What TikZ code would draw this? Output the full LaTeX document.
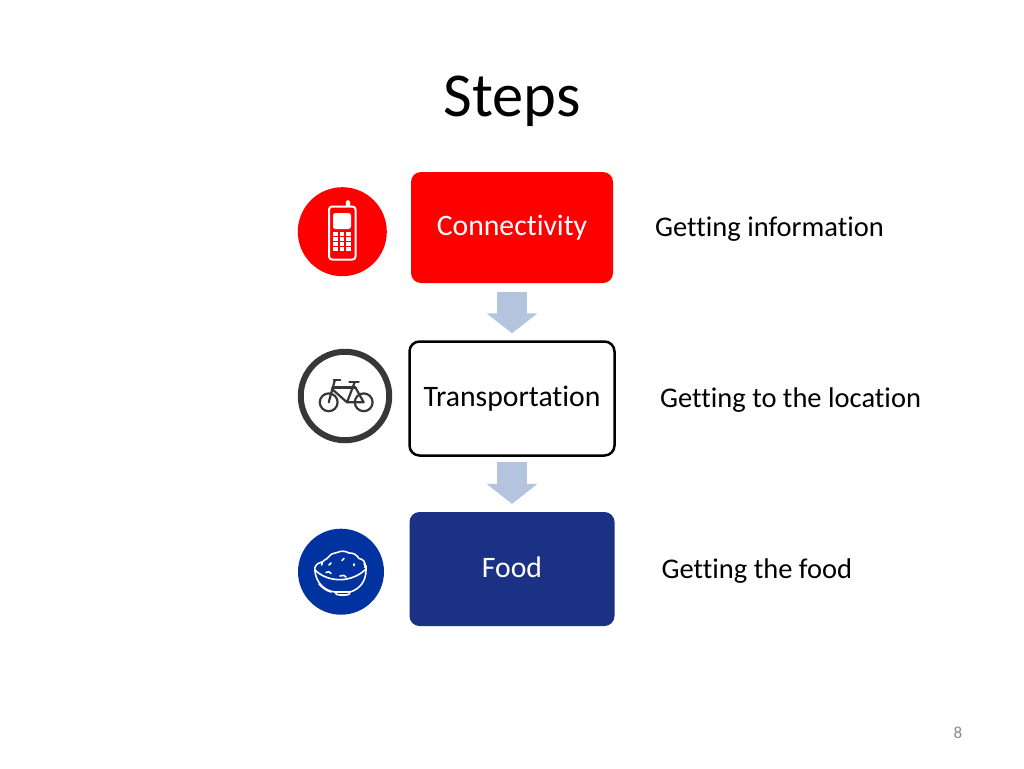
\documentclass[tikz,border=0pt]{standalone}
\usepackage{fontspec}
\setmainfont{Carlito}[Ligatures=NoCommon]
\usetikzlibrary{arrows.meta}
\definecolor{navyb}{HTML}{1A3184}
\definecolor{royal}{HTML}{0033A0}
\definecolor{flowc}{HTML}{B4C3DE}
\definecolor{ringc}{HTML}{3A3536}
\definecolor{pagec}{HTML}{8B8B8B}
\tikzset{
  x=1pt,y=-1pt,
  stepbox/.style={rounded corners=10pt,inner sep=0pt,font=\fontsize{29.7}{35}\selectfont,text height=20pt,text depth=4pt,align=center},
  sidetext/.style={anchor=west,inner sep=0pt,font=\fontsize{28.5}{34}\selectfont,text height=19pt,text depth=6pt},
  flow/.style={draw=flowc,line width=30pt,-{Triangle[length=20pt,width=50pt]}},
  iconline/.style={draw=white,line width=1.6pt,line cap=round,line join=round},
  bikeline/.style={draw=ringc,line width=2.2pt,line cap=round,line join=round},
}
\begin{document}
\begin{tikzpicture}
\useasboundingbox (0,0) rectangle (1024,768);
\node[inner sep=0pt,font=\fontsize{62.5}{72}\selectfont] (title) at (512,101) {Steps};
% boxes
\node[stepbox,fill=red,text=white,minimum width=202pt,minimum height=111pt] (conn) at (512,227.5) {Connectivity};
\node[stepbox,draw=black,line width=2.5pt,fill=white,text=black,minimum width=205pt,minimum height=114pt] (trans) at (512,398.5) {Transportation};
\node[stepbox,fill=navyb,text=white,minimum width=205pt,minimum height=114pt] (food) at (512,569) {Food};
% flow arrows
\draw[flow,shorten <=9pt,shorten >=7pt] (conn.south) -- (trans.north);
\draw[flow,shorten <=5pt,shorten >=8pt] (trans.south) -- (food.north);
% side labels
\node[sidetext] (l1) at (655,230) {Getting information};
\node[sidetext] (l2) at (660,400.5) {Getting to the location};
\node[sidetext] (l3) at (661.5,571.5) {Getting the food};
\node[inner sep=0pt,text=pagec,font=\fontsize{17}{20}\selectfont] (page) at (958,733) {8};
% phone icon
\node[circle,fill=red,minimum size=89pt,inner sep=0pt] (icphone) at (342.3,231.7) {};
\draw[white,fill=white,rounded corners=1pt] (346,207) -- (346,201.5) -- (347.8,200) -- (350,201.5) -- (350,207) -- cycle;
\draw[draw=white,line width=2pt,fill=red,rounded corners=3pt] (329,206.5) rectangle (355.5,259.5);
\fill[white,rounded corners=2.5pt] (333,213) rectangle (351,229);
\foreach \r in {0,1,2,3}{\foreach \c in {0,1,2}{
  \fill[white] (333.2+\c*6.4,231.8+\r*5) rectangle ++(4.8,3.8);
}}
% bicycle icon
\node[circle,draw=ringc,line width=6pt,fill=white,minimum size=88.5pt,inner sep=0pt] (icbike) at (345,396) {};
\draw[bikeline] (328.7,402.3) circle (8.9pt);
\draw[bikeline] (363.7,402.3) circle (8.9pt);
\draw[bikeline] (328.7,402.3) -- (334.7,380.7);
\draw[bikeline] (333.7,380) -- (340.3,380);
\draw[bikeline,line width=2.6pt] (332.7,387.3) -- (355.3,387.3);
\draw[bikeline] (332,389) -- (347,402.3) -- (354.7,382.3);
\draw[bikeline] (349.3,382.3) -- (358.7,382.3);
\draw[bikeline] (347,402.3) -- (363.7,402.3) -- (355.3,387.3);
% bowl icon
\node[circle,fill=royal,minimum size=86pt,inner sep=0pt] (icfood) at (341,571.7) {};
\draw[iconline] (315,570) .. controls (328,583) and (352,583) .. (366,569);
\draw[iconline] (321.7,562) .. controls (316,563.5) and (314,567) .. (315,571) .. controls (316,583) and (325,591) .. (335,592) -- (350,592) .. controls (360,589) and (366,581) .. (366,570) .. controls (367,567) and (366,565) .. (364,564);
\draw[iconline] (335,592) .. controls (335.5,594.5) and (337,595) .. (340,595) -- (346,595) .. controls (349,595) and (350,594) .. (350,592);
\draw[iconline] (321.7,565) .. controls (321,560) and (327,560) .. (329,556.5) .. controls (331,553) and (335,553.5) .. (337,552.5) .. controls (341,550.5) and (346,551) .. (349,553) .. controls (353,552.5) and (357,555) .. (359,558.5) .. controls (363,559) and (366,562) .. (365,567.5);
\draw[iconline] (329,565) -- (331,563);
\draw[iconline] (342,560.5) -- (344,558.5);
\draw[iconline] (354,564) -- (354,565.5);
\draw[iconline] (326,572.5) .. controls (328,571) and (330,571.5) .. (331,573.5);
\draw[iconline] (340,576) .. controls (343,575) and (345,575) .. (346,577);
\draw[iconline] (319,584) .. controls (323,588) and (325,590) .. (331,592);
\end{tikzpicture}
\end{document}
